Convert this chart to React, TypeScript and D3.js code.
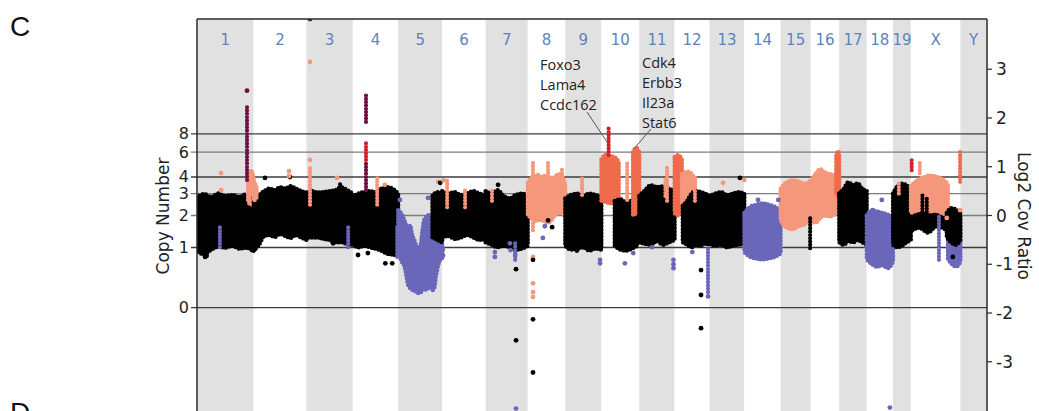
import React from "react";
import * as d3 from "d3";

// ---------------- data ----------------
const chromosomes = ["1","2","3","4","5","6","7","8","9","10","11","12","13","14","15","16","17","18","19","X","Y"];
const chromLengthsMb = [195.47,182.11,160.04,156.51,151.83,149.74,145.44,129.40,124.60,130.69,122.08,120.13,120.42,124.90,104.04,98.21,94.99,90.70,61.43,171.03,91.74];
const copyNumberTicks = [0, 1, 2, 3, 4, 6, 8];
const strongCopyLines = [0, 1, 4, 8];
const log2Ticks = [-3, -2, -1, 0, 1, 2, 3];
const tumorPurity = 0.73;

// dense segment clouds: [chr, startMb, endMb, class, upper envelope (log2), lower envelope (log2)]
const segments: [string, number, number, string, number[], number[]][] = [
  ["1", 0, 195.47, "neutral", [0.36,0.44,0.38,0.45,0.40,0.42,0.38,0.44,0.40], [-0.72,-0.80,-0.70,-0.64,-0.66,-0.62,-0.68,-0.66,-0.74]],
  ["1", 176, 195.47, "gain", [0.70,0.93,0.78], [0.30,0.22,0.25]],
  ["2", 0, 182.11, "neutral", [0.38,0.42,0.50,0.55,0.52,0.58,0.55,0.60,0.55,0.50,0.47], [-0.72,-0.60,-0.42,-0.40,-0.44,-0.38,-0.42,-0.46,-0.40,-0.45,-0.50]],
  ["2", 0, 10, "gain", [0.70,0.60], [0.30,0.35]],
  ["3", 0, 160.04, "neutral", [0.45,0.50,0.47,0.48,0.50,0.52,0.58,0.52,0.45], [-0.45,-0.45,-0.45,-0.48,-0.50,-0.55,-0.55,-0.58,-0.60]],
  ["4", 0, 156.51, "neutral", [0.38,0.45,0.48,0.50,0.48,0.55,0.58,0.55,0.45], [-0.60,-0.65,-0.62,-0.65,-0.68,-0.72,-0.78,-0.80,-0.82]],
  ["5", 0, 151.83, "loss",
    [0.11,0.07,0.01,-0.09,-0.20,-0.30,-0.20,-0.40,-0.50,-0.61,-0.65,-0.65,-0.34,-0.09,-0.03,0.01,-0.05,-0.05,-0.09,-0.20,-0.30,-0.40,-0.50],
    [-0.81,-0.87,-0.96,-1.02,-1.22,-1.43,-1.49,-1.53,-1.53,-1.57,-1.59,-1.59,-1.53,-1.49,-1.53,-1.49,-1.47,-1.53,-1.49,-1.22,-1.02,-0.91,-0.87]],
  ["5", 118, 151.83, "neutral", [0.40,0.48,0.45], [-0.45,-0.50,-0.55]],
  ["6", 0, 149.74, "neutral", [0.50,0.45,0.48,0.42,0.45,0.50,0.45,0.42], [-0.45,-0.42,-0.48,-0.45,-0.40,-0.45,-0.50,-0.48]],
  ["7", 0, 145.44, "neutral", [0.50,0.45,0.52,0.40,0.35,0.42,0.45,0.40], [-0.55,-0.60,-0.65,-0.62,-0.65,-0.70,-0.68,-0.62]],
  ["8", 0, 129.40, "gain", [0.67,0.77,0.80,0.83,0.79,0.81,0.80,0.77,0.79,0.85,0.82,0.63], [0.01,-0.05,-0.13,-0.09,-0.09,-0.13,-0.15,-0.09,0.01,0.05,0.05,-0.05]],
  ["9", 0, 124.60, "neutral", [0.35,0.42,0.45,0.40,0.45,0.42,0.38], [-0.62,-0.70,-0.68,-0.65,-0.72,-0.68,-0.70]],
  ["10", 0, 60, "gain2", [1.15,1.25,1.22,1.20,1.10], [0.30,0.28,0.25,0.30,0.35]],
  ["10", 46, 124, "neutral", [0.30,0.33,0.28,0.30,0.26], [-0.62,-0.70,-0.72,-0.68,-0.62]],
  ["10", 109, 130.69, "gain2", [1.30,1.39,1.30], [0.00,0.05,0.12]],
  ["11", 0, 122.08, "neutral", [0.40,0.52,0.62,0.58,0.60,0.55,0.50], [-0.55,-0.58,-0.60,-0.52,-0.60,-0.55,-0.50]],
  ["12", 0, 25, "gain2", [1.20,1.24,1.15], [0.05,0.00,0.10]],
  ["12", 25, 70, "gain", [0.85,0.90,0.75], [0.25,0.20,0.30]],
  ["12", 28, 120.13, "neutral", [0.20,0.30,0.45,0.50,0.48,0.45,0.40], [-0.55,-0.60,-0.65,-0.60,-0.62,-0.58,-0.60]],
  ["13", 0, 120.42, "neutral", [0.40,0.45,0.48,0.42,0.45,0.48,0.45], [-0.58,-0.62,-0.60,-0.65,-0.62,-0.60,-0.58]],
  ["14", 0, 124.90, "loss", [0.05,0.18,0.22,0.25,0.22,0.18,0.10], [-0.75,-0.85,-0.88,-0.90,-0.88,-0.85,-0.78]],
  ["15", 0, 104.04, "gain", [0.55,0.68,0.72,0.70,0.65,0.72], [-0.10,-0.25,-0.28,-0.22,-0.18,-0.05]],
  ["16", 0, 98.21, "gain", [0.70,0.85,0.95,0.88,0.85,0.82,0.80], [-0.10,-0.15,-0.05,0.00,-0.02,0.02,0.05]],
  ["16", 88, 98.21, "gain2", [1.22,1.32,1.28], [0.45,0.40,0.50]],
  ["17", 0, 94.99, "neutral", [0.45,0.55,0.68,0.62,0.66,0.55,0.50], [-0.55,-0.60,-0.52,-0.55,-0.50,-0.55,-0.60]],
  ["18", 0, 90.70, "loss", [0.00,0.10,0.08,0.05,0.02,-0.05], [-0.90,-1.00,-1.05,-1.02,-1.08,-0.95]],
  ["19", 0, 61.43, "neutral", [0.45,0.60,0.65,0.62,0.55], [-0.60,-0.65,-0.62,-0.55,-0.50]],
  ["X", 0, 118, "neutral", [0.25,0.22,0.20,0.15,0.12], [-0.32,-0.25,-0.35,-0.22,-0.28]],
  ["X", 0, 128, "gain", [0.60,0.72,0.78,0.82,0.80,0.75,0.65], [0.05,0.10,0.12,0.08,0.10,0.05,0.00]],
  ["X", 128, 171.03, "loss", [-0.30,-0.35,-0.30,-0.20], [-0.90,-1.00,-1.05,-0.95]],
  ["X", 124, 171.03, "neutral", [0.05,0.15,0.12,0.05], [-0.45,-0.55,-0.60,-0.50]],
];

// narrow stacks of bins: [chr, posMb, low log2, high log2, class]
const columns: [string, number, number, number, string][] = [
  ["1", 79, -0.65, -0.24, "loss"],
  ["1", 172.5, 0.73, 2.27, "amp2"],
  ["3", 12.4, 0.22, 1.0, "gain"],
  ["3", 144, -0.65, -0.24, "loss"],
  ["3", 116, 0.30, 0.69, "neutral"],
  ["4", 45.5, 1.92, 2.47, "amp2"],
  ["4", 45.5, 1.14, 1.49, "amp"],
  ["4", 45.5, 0.52, 1.10, "amp2"],
  ["4", 84, 0.22, 0.79, "gain"],
  ["4", 153, -0.85, -0.24, "loss"],
  ["6", 17, 0.17, 0.77, "gain"],
  ["6", 79, 0.17, 0.52, "gain"],
  ["7", 22, 0.30, 0.57, "gain"],
  ["7", 102, -0.91, -0.55, "loss"],
  ["8", 18, 0.60, 1.14, "gain"],
  ["8", 70, 0.60, 1.14, "gain"],
  ["8", 118, 0.60, 0.97, "gain"],
  ["8", 18, -0.30, -0.10, "gain"],
  ["9", 58, 0.42, 0.79, "gain"],
  ["10", 25, 1.24, 1.82, "amp"],
  ["10", 89, 0.32, 1.08, "gain"],
  ["11", 96, 0.30, 1.00, "gain"],
  ["11", 90, 0.40, 0.75, "gain"],
  ["12", 115, -1.57, -0.65, "loss"],
  ["12", 70, 0.30, 0.83, "gain"],
  ["15", 102, -0.67, -0.03, "neutral"],
  ["19", 20, 0.45, 0.70, "gain"],
  ["X", 3, 0.93, 1.14, "amp"],
  ["X", 31, 0.87, 1.08, "gain"],
  ["X", 97, -0.91, -0.03, "loss"],
  ["X", 170, 0.69, 1.30, "gain2"],
  ["X", 40, -0.20, 0.45, "neutral"],
  ["X", 55, -0.20, 0.40, "neutral"],
];

// isolated bins: [chr, posMb, log2, class]
const points: [string, number, number, string][] = [
  ["1", 83, 0.87, "gain"], ["1", 83, 0.52, "gain"], ["1", 172.5, 2.56, "amp2"], ["1", 28, -0.85, "neutral"], ["1", 33, -0.83, "neutral"],
  ["2", 39, 0.77, "neutral"], ["2", 125, 0.79, "neutral"], ["2", 122, 0.91, "gain"], ["2", 122, 0.81, "gain"],
  ["3", 12.4, 3.15, "gain"], ["3", 12.4, 1.14, "gain"], ["3", 12.4, 4.03, "amp2"], ["3", 105, 0.77, "gain"], ["3", 92, -0.57, "neutral"],
  ["4", 18, -0.81, "neutral"], ["4", 52, -0.77, "neutral"], ["4", 112, -0.98, "neutral"], ["4", 136, -0.98, "neutral"], ["4", 110, 0.63, "gain"],
  ["5", 103, 0.36, "loss"], ["5", 6, 0.32, "loss"], ["5", 138, 0.69, "gain"], ["5", 145, 0.67, "neutral"],
  ["6", 5, 0.72, "gain"], ["6", 2, -0.70, "loss"], ["6", 3, -0.82, "loss"],
  ["7", 32, -0.75, "loss"], ["7", 32, -0.85, "loss"], ["7", 84, -0.57, "loss"], ["7", 86, -0.71, "loss"], ["7", 102, -0.81, "loss"],
  ["7", 105, -1.10, "neutral"], ["7", 105, -2.56, "neutral"], ["7", 105, -3.96, "loss"], ["7", 43, 0.63, "neutral"],
  ["8", 18, -0.85, "gain"], ["8", 18, -1.39, "gain"], ["8", 18, -1.57, "gain"], ["8", 18, -1.67, "gain"],
  ["8", 18, -0.91, "neutral"], ["8", 18, -2.13, "neutral"], ["8", 18, -3.22, "neutral"],
  ["8", 52, -0.46, "loss"], ["8", 59, -0.22, "loss"], ["8", 84, -0.24, "neutral"], ["8", 70, -0.10, "neutral"],
  ["9", 120, -0.91, "loss"], ["9", 120, -0.98, "loss"], ["9", 40, -0.72, "neutral"],
  ["10", 81, -0.98, "loss"], ["10", 110, -0.77, "loss"],
  ["11", 118, -0.91, "loss"], ["11", 118, -1.00, "loss"], ["11", 118, -1.08, "loss"], ["11", 44, -0.65, "loss"],
  ["12", 91, -1.12, "neutral"], ["12", 91, -1.63, "neutral"], ["12", 91, -2.31, "neutral"], ["12", 61, -0.75, "loss"], ["12", 115, -1.66, "loss"],
  ["13", 47, 0.67, "gain"], ["13", 120, 0.73, "gain"], ["13", 105, 0.77, "neutral"],
  ["14", 47, 0.32, "loss"], ["14", 78, 0.22, "loss"], ["14", 117, 0.32, "loss"],
  ["18", 52, 0.32, "loss"], ["18", 21, 0.11, "loss"], ["18", 80, -3.94, "loss"],
  ["X", 170, 0.11, "gain"], ["X", 124, -0.05, "gain"], ["X", 145, -0.85, "neutral"],
];

const annotations = [
  { genes: ["Foxo3", "Lama4", "Ccdc162"], chr: "10", pos: 19.3, log2: 1.51 },
  { genes: ["Cdk4", "Erbb3", "Il23a", "Stat6"], chr: "10", pos: 112.5, log2: 1.37 },
];

// ---------------- styles / layout ----------------
const classColor: Record<string, string> = {
  loss: "#6a67ba",
  neutral: "#000000",
  gain: "#f5977b",
  gain2: "#f06b4c",
  amp: "#d61f2c",
  amp2: "#6e1142",
};
const annotationLayout = [
  { textX: 540, textY: 70, fromX: 587, fromY: 112 },
  { textX: 642, textY: 68, fromX: 651, fromY: 129 },
];

const W = 1039, H = 411;
const plotLeft = 197, plotRight = 987, plotTop = 19, plotBottom = 413;
const axisFont = "'DejaVu Sans', Verdana, sans-serif";

export default function App() {
  const offsets: number[] = [];
  let acc = 0;
  chromLengthsMb.forEach((l) => { offsets.push(acc); acc += l; });
  const total = acc;
  const x = d3.scaleLinear().domain([0, total]).range([plotLeft, plotRight]);
  const y = d3.scaleLinear().domain([-4.04, 4.04]).range([412.5, 18.5]);
  const gx = (chr: string, pos: number) => x(offsets[chromosomes.indexOf(chr)] + pos);
  const cnToLog2 = (cn: number) => Math.log2((tumorPurity * cn + 2 * (1 - tumorPurity)) / 2);

  const segPaths = segments.map(([chr, s, e, cls, hi, lo], i) => {
    const n = hi.length;
    const pts = hi.map((h, k) => ({ pos: s + ((e - s) * k) / (n - 1), hi: h, lo: lo[k] }));
    const area = d3.area<{ pos: number; hi: number; lo: number }>()
      .x((d) => gx(chr, d.pos))
      .y0((d) => y(d.lo))
      .y1((d) => y(d.hi))
      .curve(d3.curveMonotoneX);
    return { key: i, d: area(pts) || "", color: classColor[cls] };
  });

  return (
    <svg width={W} height={H} style={{ position: "absolute", left: 0, top: 0, background: "#fff" }}>
      <defs>
        <clipPath id="plotClip">
          <rect x={plotLeft} y={plotTop} width={plotRight - plotLeft} height={plotBottom - plotTop} />
        </clipPath>
      </defs>
      <text x={10} y={36} fontFamily="'Liberation Sans', Arial, sans-serif" fontSize={28} fill="#111">C</text>
      <text x={10} y={422} fontFamily="'Liberation Sans', Arial, sans-serif" fontSize={28} fill="#111">D</text>

      {/* chromosome bands */}
      {chromosomes.map((c, i) => (
        <rect key={"b" + c} x={x(offsets[i])} y={plotTop} width={x(offsets[i] + chromLengthsMb[i]) - x(offsets[i])}
          height={plotBottom - plotTop} fill={i % 2 === 0 ? "#e1e1e1" : "#ffffff"} />
      ))}

      {/* copy number lines */}
      {copyNumberTicks.map((cn) => {
        const yy = y(cnToLog2(cn));
        const strong = strongCopyLines.includes(cn);
        return (
          <g key={"cn" + cn}>
            <line x1={191} x2={plotRight} y1={yy} y2={yy} stroke={strong ? "#3c3c3c" : "#7d7d7d"} strokeWidth={1.4} />
            <text x={189} y={yy + 5.5} textAnchor="end" fontFamily={axisFont} fontSize={16} fill="#222">{cn}</text>
          </g>
        );
      })}

      <g clipPath="url(#plotClip)">
        {segPaths.map((s) => (
          <path key={"s" + s.key} d={s.d} fill={s.color} stroke={s.color} strokeWidth={4.4}
            strokeDasharray="0 3.4" strokeLinecap="round" strokeLinejoin="round" />
        ))}
        {columns.map(([chr, pos, lo, hi, cls], i) => {
          const xx = gx(chr, pos);
          return (
            <line key={"c" + i} x1={xx} x2={xx} y1={y(lo)} y2={y(hi)} stroke={classColor[cls]} strokeWidth={4.2}
              strokeDasharray="0 3.3" strokeLinecap="round" />
          );
        })}
        {points.map(([chr, pos, v, cls], i) => (
          <circle key={"p" + i} cx={gx(chr, pos)} cy={y(v)} r={2.4} fill={classColor[cls]} />
        ))}
      </g>

      {/* frame */}
      <line x1={plotLeft} x2={plotRight} y1={plotTop} y2={plotTop} stroke="#2a2a2a" strokeWidth={1.5} />
      <line x1={plotLeft} x2={plotLeft} y1={plotTop} y2={plotBottom} stroke="#2a2a2a" strokeWidth={1.5} />
      <line x1={plotRight} x2={plotRight} y1={plotTop} y2={plotBottom} stroke="#2a2a2a" strokeWidth={1.5} />

      {/* right axis */}
      {log2Ticks.map((t) => (
        <g key={"r" + t}>
          <line x1={plotRight} x2={plotRight + 5} y1={y(t)} y2={y(t)} stroke="#2a2a2a" strokeWidth={1.2} />
          <text x={996} y={y(t) + 6} fontFamily={axisFont} fontSize={17} fill="#222">{t}</text>
        </g>
      ))}

      {/* chromosome labels */}
      {chromosomes.map((c, i) => (
        <text key={"l" + c} x={x(offsets[i] + chromLengthsMb[i] / 2)} y={45} textAnchor="middle"
          fontFamily={axisFont} fontSize={15} fill="#5b84bd">{c}</text>
      ))}

      {/* axis titles */}
      <text transform={`translate(169,216) rotate(-90)`} textAnchor="middle" fontFamily={axisFont} fontSize={17} fill="#222">Copy Number</text>
      <text transform={`translate(1018,216) rotate(90)`} textAnchor="middle" fontFamily={axisFont} fontSize={17} fill="#222">Log2 Cov Ratio</text>

      {/* gene annotations */}
      {annotations.map((a, i) => {
        const lay = annotationLayout[i];
        return (
          <g key={"a" + i}>
            <line x1={lay.fromX} y1={lay.fromY} x2={gx(a.chr, a.pos)} y2={y(a.log2)} stroke="#555" strokeWidth={1} />
            {a.genes.map((g, k) => (
              <text key={g} x={lay.textX} y={lay.textY + k * 20} fontFamily="'Open Sans', 'Noto Sans', sans-serif"
                fontSize={14.5} fill="#222">{g}</text>
            ))}
          </g>
        );
      })}
    </svg>
  );
}
